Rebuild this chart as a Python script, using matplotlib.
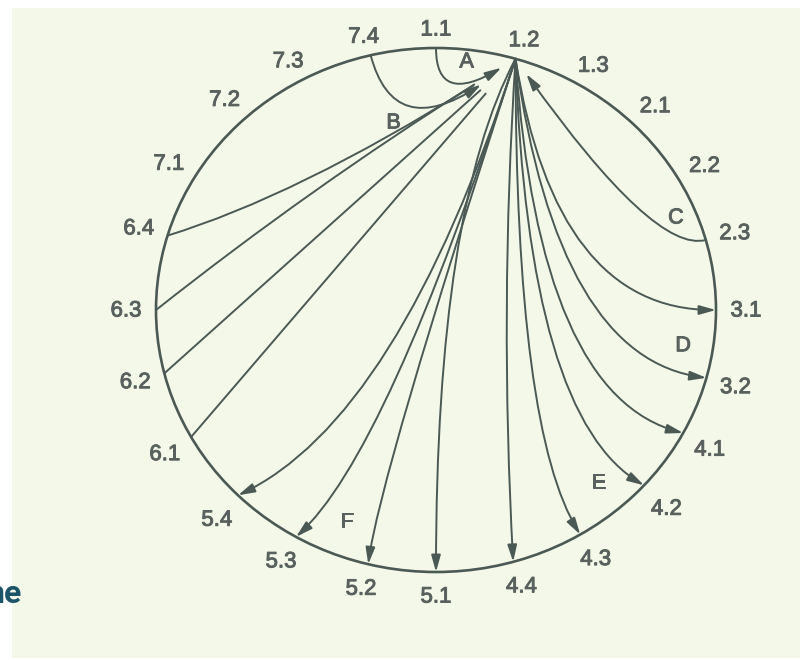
import numpy as np
import matplotlib
matplotlib.use("Agg")
import matplotlib.pyplot as plt
import matplotlib.patheffects as pe
from matplotlib.patches import Ellipse, FancyArrowPatch, Rectangle

# ---------------- data ----------------
nodes = ["1.1", "1.2", "1.3", "2.1", "2.2", "2.3", "3.1", "3.2",
         "4.1", "4.2", "4.3", "4.4", "5.1", "5.2", "5.3", "5.4",
         "6.1", "6.2", "6.3", "6.4", "7.1", "7.2", "7.3", "7.4"]
node_deg = [90, 73.5, 59.5, 45, 30, 15.5, 0, -15,
            -28, -42, -59, -74, -90, -104, -120, -135,
            -151, -166, 180, 163.5, 149.5, 133, 118.5, 103.5]

flow_src = ["1.1", "7.4", "2.3", "6.4", "6.3", "6.2", "6.1",
            "1.2", "1.2", "1.2", "1.2", "1.2", "1.2", "1.2", "1.2", "1.2", "1.2"]
flow_dst = ["1.2", "1.2", "1.2", "1.2", "1.2", "1.2", "1.2",
            "3.1", "3.2", "4.1", "4.2", "4.3", "4.4", "5.1", "5.2", "5.3", "5.4"]

groups = ["A", "B", "C", "D", "E", "F"]
group_deg = [83.4, 102, 22.3, -8.8, -48.7, -111.5]
group_r = [0.953, 0.73, 0.926, 0.893, 0.878, 0.869]

# ---------------- styles ----------------
HEAD = "-|>,head_length=10,head_width=2.8"
conn = {
    ("1.1", "1.2"): ("angle3,angleA=-90,angleB=34", 12, HEAD),
    ("7.4", "1.2"): ("angle3,angleA=-75,angleB=40", 31, HEAD),
    ("2.3", "1.2"): ("angle3,angleA=-165,angleB=125", 13.5, HEAD),
    ("6.4", "1.2"): ("angle3,angleA=17,angleB=33", 36, "-"),
    ("6.3", "1.2"): ("arc3,rad=-0.03", 35, "-"),
    ("6.2", "1.2"): ("arc3,rad=0.0", 34, "-"),
    ("6.1", "1.2"): ("arc3,rad=0.0", 33, "-"),
    ("1.2", "3.1"): ("angle3,angleA=-81,angleB=0", 0, HEAD),
    ("1.2", "3.2"): ("angle3,angleA=-82,angleB=-7", 0, HEAD),
    ("1.2", "4.1"): ("angle3,angleA=-86,angleB=-14", 0, HEAD),
    ("1.2", "4.2"): ("angle3,angleA=-88,angleB=-30", 0, HEAD),
    ("1.2", "4.3"): ("angle3,angleA=-90,angleB=-58", 0, HEAD),
    ("1.2", "4.4"): ("arc3,rad=0.03", 0, HEAD),
    ("1.2", "5.1"): ("angle3,angleA=-118,angleB=90", 0, HEAD),
    ("1.2", "5.2"): ("angle3,angleA=-108,angleB=-97", 0, HEAD),
    ("1.2", "5.3"): ("angle3,angleA=-108,angleB=-138", 0, HEAD),
    ("1.2", "5.4"): ("angle3,angleA=-108,angleB=-155", 0, HEAD),
}

CX, CY, RX, RY = 436, 310, 280, 262
line_col = "#4b5955"
text_col = "#59615e"
bg_col = "#f4f8e9"
FS = 16

fig = plt.figure(figsize=(8, 6.6), dpi=100)
ax = fig.add_axes([0, 0, 1, 1])
ax.set_xlim(0, 800)
ax.set_ylim(660, 0)
ax.axis("off")
fig.patch.set_facecolor("white")

ax.add_patch(Rectangle((12, 8), 800, 650, facecolor=bg_col, edgecolor="none", zorder=0))
ax.add_patch(Ellipse((CX, CY), 2 * RX, 2 * RY, fill=False, edgecolor=line_col, lw=1.9, zorder=2))

effects = [pe.withStroke(linewidth=0.7, foreground=text_col)]


def pt(name):
    t = np.deg2rad(node_deg[nodes.index(name)])
    return CX + RX * np.cos(t), CY - RY * np.sin(t)


for name, d in zip(nodes, node_deg):
    t = np.deg2rad(d)
    c, s = np.cos(t), np.sin(t)
    k = 19 if s > 0 else 24
    x = CX + RX * c + 30 * c
    y = CY - RY * s - k * s / max(abs(s), 0.7)
    ax.text(x, y + 1, name, ha="center", va="center", fontsize=FS,
            family="Liberation Sans", color=text_col, zorder=4, path_effects=effects)

for g, d, r in zip(groups, group_deg, group_r):
    t = np.deg2rad(d)
    ax.text(CX + r * RX * np.cos(t), CY - r * RY * np.sin(t), g, ha="center", va="center",
            fontsize=FS - 0.5, family="Liberation Sans", color=text_col, zorder=4,
            path_effects=effects)

for s_, d_ in zip(flow_src, flow_dst):
    style, shrink, astyle = conn[(s_, d_)]
    arr = FancyArrowPatch(pt(s_), pt(d_), connectionstyle=style,
                          arrowstyle=astyle,
                          shrinkA=0, shrinkB=shrink, mutation_scale=1,
                          color=line_col, lw=1.4, zorder=3)
    ax.add_patch(arr)

ax.text(22, 603, "ne", ha="right", va="baseline", fontsize=23, fontweight="bold",
        family="Roboto", color="#1d5568", zorder=5)

fig.savefig("out.png", dpi=100)
